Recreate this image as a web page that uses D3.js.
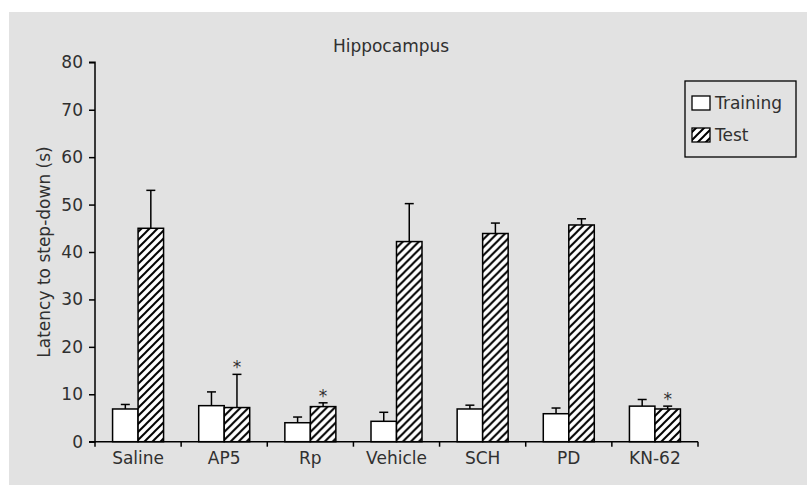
<!DOCTYPE html>
<html><head><meta charset="utf-8">
<script src="https://cdn.jsdelivr.net/npm/d3@7"></script>
<style>html,body{margin:0;padding:0;background:#fff}svg{display:block}</style>
</head><body>
<svg id="c" width="807" height="485"></svg>
<script>
const categories = ["Saline","AP5","Rp","Vehicle","SCH","PD","KN-62"];
const seriesNames = ["Training","Test"];
const trainingMean = [6.9, 7.6, 4.0, 4.3, 6.9, 5.9, 7.5];
const trainingErr  = [0.95, 2.9, 1.2, 1.9, 0.8, 1.2, 1.4];
const testMean = [45.0, 7.2, 7.4, 42.2, 43.9, 45.7, 6.9];
const testErr  = [8.0, 7.0, 0.8, 8.0, 2.2, 1.3, 0.6];
const significant = [false, true, true, false, false, false, true];
const yTicks = [0,10,20,30,40,50,60,70,80];

const svg = d3.select("#c");
const FONT = "DejaVu Sans";
const TXT = "#303030";
svg.append("rect").attr("x",9).attr("y",12).attr("width",807-9).attr("height",485-12).attr("fill","#e2e2e2");

const defs = svg.append("defs");
const pat = defs.append("pattern").attr("id","hatch").attr("patternUnits","userSpaceOnUse")
  .attr("width",8).attr("height",8);
pat.append("rect").attr("width",8).attr("height",8).attr("fill","#fff");
pat.append("path").attr("d","M-2,2 L2,-2 M0,8 L8,0 M6,10 L10,6").attr("stroke","#000").attr("stroke-width",2);

const x0 = 95, x1 = 698, yTop = 62.3, yBot = 441.7;
const x = d3.scaleBand().domain(categories).range([x0,x1]).paddingInner(0).paddingOuter(0);
const y = d3.scaleLinear().domain([0,80]).range([yBot,yTop]);
const sub = d3.scaleBand().domain(seriesNames).range([-25.5,25.5]);

const g = svg.append("g");

const rows = categories.map((c,i)=>({c, vals:[
  {s:"Training", v:trainingMean[i], e:trainingErr[i]},
  {s:"Test", v:testMean[i], e:testErr[i]}], sig:significant[i]}));

const grp = g.selectAll("g.grp").data(rows).join("g").attr("class","grp")
  .attr("transform",d=>`translate(${x(d.c)+x.bandwidth()/2},0)`);

grp.selectAll("line.err").data(d=>d.vals).join("line").attr("class","err")
  .attr("x1",d=>sub(d.s)+sub.bandwidth()/2).attr("x2",d=>sub(d.s)+sub.bandwidth()/2)
  .attr("y1",d=>y(d.v)).attr("y2",d=>y(d.v+d.e)).attr("stroke","#000").attr("stroke-width",1.5);
grp.selectAll("line.cap").data(d=>d.vals).join("line").attr("class","cap")
  .attr("x1",d=>sub(d.s)+sub.bandwidth()/2-4.5).attr("x2",d=>sub(d.s)+sub.bandwidth()/2+4.5)
  .attr("y1",d=>y(d.v+d.e)).attr("y2",d=>y(d.v+d.e)).attr("stroke","#000").attr("stroke-width",1.5);

grp.selectAll("rect.bar").data(d=>d.vals).join("rect").attr("class","bar")
  .attr("x",d=>sub(d.s)).attr("width",sub.bandwidth())
  .attr("y",d=>y(d.v)).attr("height",d=>y(0)-y(d.v))
  .attr("fill",d=>d.s==="Test"?"url(#hatch)":"#fff")
  .attr("stroke","#000").attr("stroke-width",1.5);

grp.filter(d=>d.sig).append("text")
  .attr("x",sub("Test")+sub.bandwidth()/2)
  .attr("y",d=>y(d.vals[1].v+d.vals[1].e)-1)
  .attr("text-anchor","middle").attr("font-family",FONT).attr("font-size",17).attr("fill",TXT)
  .text("*");

const yAxis = g.append("g").attr("transform",`translate(${x0},0)`)
  .call(d3.axisLeft(y).tickValues(yTicks).tickSize(6).tickPadding(6));
yAxis.select(".domain").attr("stroke","#000").attr("stroke-width",1.5).attr("d",`M-6,${yTop}H0V${yBot}H-6`);
yAxis.selectAll(".tick line").attr("stroke","#000").attr("stroke-width",1.5);
yAxis.selectAll(".tick text").attr("font-family",FONT).attr("font-size",17).attr("fill",TXT);

const bounds = d3.range(categories.length+1).map(i=>x0 + i*x.step());
const xAxis = g.append("g").attr("transform",`translate(0,${yBot})`)
  .call(d3.axisBottom(x).tickSize(0).tickPadding(10));
xAxis.select(".domain").attr("stroke","#000").attr("stroke-width",1.5).attr("d",`M${x0},0H${x1}`);
xAxis.selectAll(".tick text").attr("font-family",FONT).attr("font-size",17).attr("fill",TXT);
xAxis.selectAll("line.bnd").data(bounds).join("line").attr("class","bnd")
  .attr("x1",d=>d).attr("x2",d=>d).attr("y1",0).attr("y2",5).attr("stroke","#000").attr("stroke-width",1.5);

svg.append("text").attr("x",391).attr("y",52).attr("text-anchor","middle")
  .attr("font-family",FONT).attr("font-size",17).attr("fill",TXT).text("Hippocampus");
svg.append("text").attr("transform",`translate(50,${(yTop+yBot)/2}) rotate(-90)`)
  .attr("text-anchor","middle").attr("font-family",FONT).attr("font-size",17).attr("fill",TXT)
  .text("Latency to step-down (s)");

const lg = svg.append("g");
lg.append("rect").attr("x",685).attr("y",81).attr("width",111).attr("height",76)
  .attr("fill","none").attr("stroke","#000").attr("stroke-width",1.3);
seriesNames.forEach((s,i)=>{
  const yy = 96 + i*32;
  lg.append("rect").attr("x",692).attr("y",yy).attr("width",18).attr("height",14)
    .attr("fill",s==="Test"?"url(#hatch)":"#fff").attr("stroke","#000").attr("stroke-width",1.3);
  lg.append("text").attr("x",715).attr("y",yy+13).attr("font-family",FONT).attr("font-size",17)
    .attr("fill",TXT).text(s);
});
</script>
</body></html>
